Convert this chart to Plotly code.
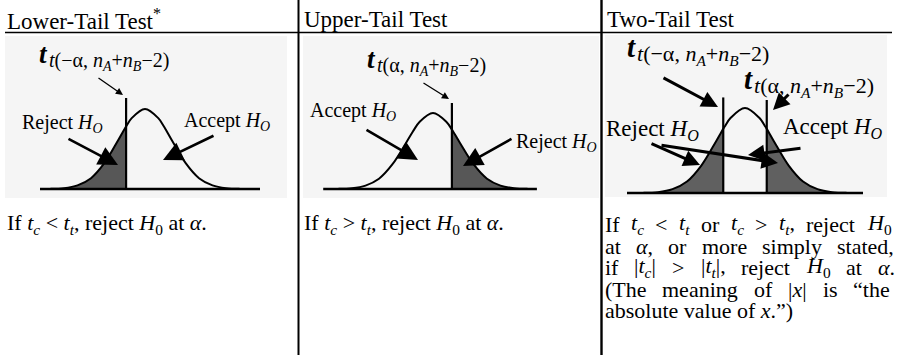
import plotly.graph_objects as go

W, H = 900, 355
FONT = "Liberation Serif, Times New Roman, serif"

# bell curve (t units, density)
t_pts = [-3.5, -3.0, -2.5, -2.0, -1.5, -1.0, -0.75, -0.7, -0.5, 0.0,
         0.5, 0.7, 0.75, 1.0, 1.5, 2.0, 2.5, 3.0, 3.5]
dens = [0.001, 0.004, 0.018, 0.054, 0.130, 0.242, 0.301, 0.312, 0.352, 0.399,
        0.352, 0.312, 0.301, 0.242, 0.130, 0.054, 0.018, 0.004, 0.001]

# critical values drawn in each panel
crit_lower = [-0.7]
crit_upper = [0.7]
crit_two = [-0.75, 0.75]

headers = ["Lower-Tail Test<sup>*</sup>", "Upper-Tail Test", "Two-Tail Test"]

# panel geometry in pixels (centre, px per t unit, baseline, peak height, x extent, line top)
panels = [
    dict(cx=145, sig=27, base=189, peak=80, xlo=-3.89, xhi=4.26, top=0.454),
    dict(cx=433, sig=27, base=189, peak=76, xlo=-4.07, xhi=3.85, top=0.451),
    dict(cx=745, sig=29, base=193, peak=85, xlo=-4.07, xhi=4.07, top=0.45),
]


def px(x):
    return x / W


def py(y):
    return 1 - y / H


fig = go.Figure()
layout_axes = {}
for i, p in enumerate(panels):
    k = p["peak"] / 0.399
    xd = [(p["cx"] + p["xlo"] * p["sig"]) / W, (p["cx"] + p["xhi"] * p["sig"]) / W]
    yd = [py(p["base"] + 0.03 * k), py(p["base"] - p["top"] * k)]
    sfx = "" if i == 0 else str(i + 1)
    layout_axes["xaxis" + sfx] = dict(domain=xd, range=[p["xlo"], p["xhi"]], visible=False, fixedrange=True)
    layout_axes["yaxis" + sfx] = dict(domain=yd, range=[-0.03, p["top"]], visible=False, fixedrange=True)

shade = ["#575757", "#575757", "#606060"]
tails = [
    [[t for t in t_pts if t <= crit_lower[0]]],
    [[t for t in t_pts if t >= crit_upper[0]]],
    [[t for t in t_pts if t <= crit_two[0]], [t for t in t_pts if t >= crit_two[1]]],
]
crits = [crit_lower, crit_upper, crit_two]
tops = [[0.454], [0.451], [0.45, 0.437]]

for i, p in enumerate(panels):
    xa = "x" if i == 0 else "x" + str(i + 1)
    ya = "y" if i == 0 else "y" + str(i + 1)
    for seg in tails[i]:
        fig.add_trace(go.Scatter(
            x=seg, y=[dens[t_pts.index(t)] for t in seg], xaxis=xa, yaxis=ya,
            mode="lines", line=dict(width=0, shape="spline"), fill="tozeroy",
            fillcolor=shade[i], hoverinfo="skip", showlegend=False))
    fig.add_trace(go.Scatter(
        x=t_pts, y=dens, xaxis=xa, yaxis=ya, mode="lines",
        line=dict(color="black", width=2, shape="spline"),
        hoverinfo="skip", showlegend=False))
    for c, tp in zip(crits[i], tops[i]):
        fig.add_trace(go.Scatter(
            x=[c, c], y=[0, tp], xaxis=xa, yaxis=ya, mode="lines",
            line=dict(color="black", width=2.2), hoverinfo="skip", showlegend=False))
    fig.add_trace(go.Scatter(
        x=[p["xlo"], p["xhi"]], y=[0, 0], xaxis=xa, yaxis=ya, mode="lines",
        line=dict(color="black", width=2.6), hoverinfo="skip", showlegend=False))

# table rules and faint image backgrounds
shapes = [
    dict(type="rect", xref="paper", yref="paper", x0=px(5), x1=px(287), y0=py(198), y1=py(36),
         fillcolor="#f5f5f5", line=dict(width=0), layer="below"),
    dict(type="rect", xref="paper", yref="paper", x0=px(303), x1=px(599), y0=py(198), y1=py(36),
         fillcolor="#f5f5f5", line=dict(width=0), layer="below"),
    dict(type="rect", xref="paper", yref="paper", x0=px(605), x1=px(887), y0=py(197), y1=py(35),
         fillcolor="#f5f5f5", line=dict(width=0), layer="below"),
    dict(type="line", xref="paper", yref="paper", x0=px(5), x1=px(892), y0=py(32.5), y1=py(32.5),
         line=dict(color="black", width=1.6)),
    dict(type="line", xref="paper", yref="paper", x0=px(298.5), x1=px(298.5), y0=0, y1=1,
         line=dict(color="black", width=2)),
    dict(type="line", xref="paper", yref="paper", x0=px(601.5), x1=px(601.5), y0=0, y1=1,
         line=dict(color="black", width=2.4)),
]

ann = []


def text(x, y, s, size, anchor="left"):
    ann.append(dict(x=px(x), y=py(y), xref="paper", yref="paper", text=s, showarrow=False,
                    xanchor=anchor, yanchor="middle", font=dict(family=FONT, size=size, color="black")))


def arrow(x0, y0, x1, y1, width, size):
    ann.append(dict(x=px(x1), y=py(y1), xref="paper", yref="paper", text="", showarrow=True,
                    ax=x0 - x1, ay=y0 - y1, arrowhead=2, arrowsize=size, arrowwidth=width,
                    arrowcolor="black", standoff=0, startstandoff=0))


def t_label(x, y, sign, s_main, s_sub):
    text(x, y - 6, "<b><i>t</i></b>", s_main)
    sub = ("<i>t</i>(" + sign + "α, <i>n</i><sub><i>A</i></sub>+<i>n</i>"
           "<sub><i>B</i></sub>−2)")
    text(x + s_main * 0.36, y + 2, sub, s_sub)


H0 = "<i>H</i><sub><i>O</i></sub>"

for xh, h in zip([5, 302, 605], headers):
    text(xh, 19, h, 23)

# lower tail panel
t_label(37, 60, "−", 27, 20)
arrow(97, 77, 123, 95, 1.3, 1.1)
text(62, 124, "Reject " + H0, 20, "center")
text(227, 121, "Accept " + H0, 20, "center")
arrow(67, 138, 118, 165, 2.6, 1.5)
arrow(215, 135, 163, 160, 2.6, 1.5)

# upper tail panel
t_label(365, 65, "", 27, 20)
arrow(422, 82, 449, 99, 1.3, 1.1)
text(353, 111, "Accept " + H0, 20, "center")
text(556, 142, "Reject " + H0, 20, "center")
arrow(365, 129, 418, 160, 2.6, 1.5)
arrow(513, 138, 463, 166, 2.6, 1.5)

# two tail panel
t_label(625, 53, "−", 29, 22)
t_label(742, 85, "", 29, 22)
arrow(662, 77, 718, 107, 3, 1.1)
arrow(790, 93, 773, 110, 3, 1.1)
text(652, 130, "Reject " + H0, 23, "center")
text(833, 128, "Accept " + H0, 23, "center")
arrow(650, 143, 700, 165, 3, 1.1)
arrow(660, 145, 778, 163, 3, 1.1)
arrow(802, 148, 748, 155, 3, 1.1)

# decision rules
tc = "<i>t</i><sub><i>c</i></sub>"
tt = "<i>t</i><sub><i>t</i></sub>"
text(5, 224, "If " + tc + " &lt; " + tt + ", reject <i>H</i><sub>0</sub> at <i>α</i>.", 22)
text(302, 224, "If " + tc + " &gt; " + tt + ", reject <i>H</i><sub>0</sub> at <i>α</i>.", 22)

justified = [
    (224, [("If", 603), (tc, 629), ("&lt;", 653), (tt, 677), ("or", 699), (tc, 729),
           ("&gt;", 753), (tt + ",", 777), ("reject", 804), ("<i>H</i><sub>0</sub>", 865)]),
    (246, [("at", 603), ("<i>α</i>,", 634), ("or", 666), ("more", 700), ("simply", 760),
           ("stated,", 835)]),
    (267, [("if", 603), ("|" + tc + "|", 632), ("&gt;", 670), ("|" + tt + "|,", 699),
           ("reject", 739), ("<i>H</i><sub>0</sub>", 804), ("at", 844), ("<i>α</i>.", 876)]),
    (289, [("(The", 603), ("meaning", 660), ("of", 752), ("|<i>x</i>|", 786), ("is", 821),
           ("“the", 851)]),
]
for yy, words in justified:
    for w, xx in words:
        text(xx, yy, w, 22)
text(603, 310, "absolute value of <i>x</i>.”)", 22)

fig.update_layout(
    width=W, height=H, margin=dict(l=0, r=0, t=0, b=0),
    paper_bgcolor="white", plot_bgcolor="rgba(0,0,0,0)",
    shapes=shapes, annotations=ann, showlegend=False,
    **layout_axes,
)

# page body has a default 8px margin; drop it so the figure sits at the window corner
fig.write_html("out.html", config={"displayModeBar": False},
               post_script="document.body.style.margin='0px';")
